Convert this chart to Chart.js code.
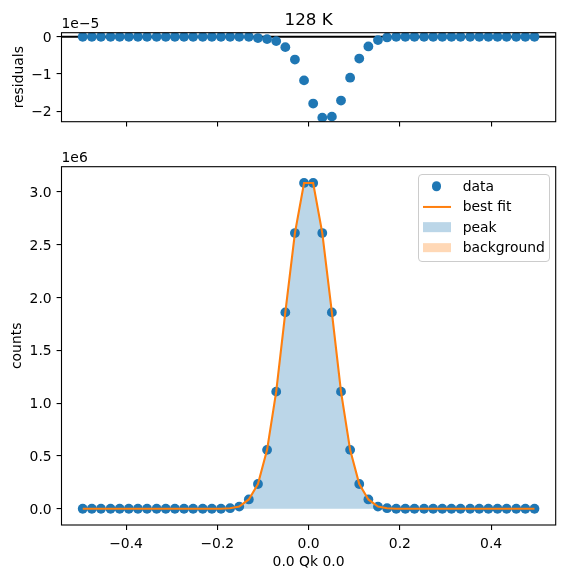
<!DOCTYPE html>
<html>
<head>
<meta charset="utf-8">
<script src="https://cdn.jsdelivr.net/npm/chart.js@4.4.0/dist/chart.umd.min.js"></script>
<style>
  html, body { margin: 0; padding: 0; background: #fff; }
  #fig { position: relative; width: 567px; height: 578px; overflow: hidden; font-family: 'DejaVu Sans', sans-serif; }
  #fig canvas { position: absolute; left: 0; }
  #resCanvas { top: 0; }
  #mainCanvas { top: 140px; }
  #legend {
    position: absolute; left: 418px; top: 174px; width: 132px; height: 88px;
    box-sizing: border-box; border: 1px solid #cccccc; border-radius: 4px;
    background: rgba(255, 255, 255, 0.8); z-index: 2;
    font-size: 13.9px; color: #000;
  }
  #legend .row { position: absolute; left: 0; width: 100%; height: 20.5px; }
  #legend .handle { position: absolute; top: 50%; transform: translateY(-50%); }
  #legend .text { position: absolute; left: 43.7px; top: 0; line-height: 20.5px; white-space: nowrap; }
</style>
</head>
<body>
<div id="fig">
  <canvas id="resCanvas" width="567" height="140"></canvas>
  <canvas id="mainCanvas" width="567" height="438"></canvas>
  <div id="legend"></div>
</div>
<script>
// scan positions (0.0 Qk 0.0)
const qk = [
  -0.495, -0.475, -0.455, -0.434, -0.414, -0.394, -0.374, -0.354, -0.333, -0.313,
  -0.293, -0.273, -0.253, -0.232, -0.212, -0.192, -0.172, -0.152, -0.131, -0.111,
  -0.091, -0.071, -0.051, -0.030, -0.010, 0.010, 0.030, 0.051, 0.071, 0.091,
  0.111, 0.131, 0.152, 0.172, 0.192, 0.212, 0.232, 0.253, 0.273, 0.293,
  0.313, 0.333, 0.354, 0.374, 0.394, 0.414, 0.434, 0.455, 0.475, 0.495
];

const counts = [
  0, 0, 0, 0, 0, 0, 0, 0, 0, 0,
  0, 0, 0, 0, 0, 0, 5000, 20000, 88000, 234000,
  557000, 1108000, 1858000, 2609000, 3083000, 3083000, 2609000, 1858000, 1108000, 557000,
  234000, 88000, 20000, 5000, 0, 0, 0, 0, 0, 0,
  0, 0, 0, 0, 0, 0, 0, 0, 0, 0
];

const bestFit = [
  0, 0, 0, 0, 0, 0, 0, 0, 0, 0,
  0, 0, 0, 0, 0, 0, 5000, 20000, 88000, 234000,
  557000, 1108000, 1858000, 2609000, 3083000, 3083000, 2609000, 1858000, 1108000, 557000,
  234000, 88000, 20000, 5000, 0, 0, 0, 0, 0, 0,
  0, 0, 0, 0, 0, 0, 0, 0, 0, 0
];

const peak = [
  0, 0, 0, 0, 0, 0, 0, 0, 0, 0,
  0, 0, 0, 0, 0, 0, 5000, 20000, 88000, 234000,
  557000, 1108000, 1858000, 2609000, 3083000, 3083000, 2609000, 1858000, 1108000, 557000,
  234000, 88000, 20000, 5000, 0, 0, 0, 0, 0, 0,
  0, 0, 0, 0, 0, 0, 0, 0, 0, 0
];

const background = [
  0, 0, 0, 0, 0, 0, 0, 0, 0, 0,
  0, 0, 0, 0, 0, 0, 0, 0, 0, 0,
  0, 0, 0, 0, 0, 0, 0, 0, 0, 0,
  0, 0, 0, 0, 0, 0, 0, 0, 0, 0,
  0, 0, 0, 0, 0, 0, 0, 0, 0, 0
];

const residuals = [
  0, 0, 0, 0, 0, 0, 0, 0, 0, 0,
  0, 0, 0, 0, 0, 0, 0, 0, 0, -0.036e-5,
  -0.063e-5, -0.117e-5, -0.279e-5, -0.613e-5, -1.171e-5, -1.793e-5, -2.171e-5, -2.144e-5, -1.712e-5, -1.099e-5,
  -0.586e-5, -0.261e-5, -0.090e-5, -0.018e-5, 0, 0, 0, 0, 0, 0,
  0, 0, 0, 0, 0, 0, 0, 0, 0, 0
];

const xTicks = [-0.4, -0.2, 0, 0.2, 0.4];
const countTicks = [0, 500000, 1000000, 1500000, 2000000, 2500000, 3000000];
const residualTicks = [0, -1e-5, -2e-5];

const xLimits = [-0.5415, 0.5415];
const countLimits = [-154000, 3237000];
const residualLimits = [-2.28e-5, 0.1086e-5];
const residualZero = 0;

const BLUE = '#1f77b4';
const ORANGE = '#ff7f0e';
const axisFont = { family: 'DejaVu Sans', size: 13.9 };

Chart.defaults.font.family = 'DejaVu Sans';
Chart.defaults.color = '#000';

function fmt(v, digits) {
  const s = Math.abs(v).toFixed(digits);
  return (v < 0 && Number(s) !== 0 ? '\u2212' : '') + s;
}

function points(xs, ys) {
  return xs.map((x, i) => ({ x: x, y: ys[i] }));
}

function tickGrid() {
  return { drawOnChartArea: false, drawTicks: true, tickLength: 4.9, color: '#000', lineWidth: 1.1 };
}

// box round the plot area, title and the 1eN offset text
const axesFrame = {
  id: 'axesFrame',
  afterDraw(chart, args, opts) {
    const { ctx, chartArea: a } = chart;
    ctx.save();
    ctx.strokeStyle = '#000';
    ctx.lineWidth = 1.1;
    ctx.strokeRect(a.left, a.top, a.right - a.left, a.bottom - a.top);
    ctx.fillStyle = '#000';
    ctx.textBaseline = 'alphabetic';
    if (opts.offsetText) {
      ctx.font = '13.9px "DejaVu Sans"';
      ctx.textAlign = 'left';
      ctx.fillText(opts.offsetText, a.left, a.top - 4.4);
    }
    if (opts.title) {
      ctx.font = '16.7px "DejaVu Sans"';
      ctx.textAlign = 'center';
      ctx.fillText(opts.title, (a.left + a.right) / 2, opts.titleY);
    }
    ctx.restore();
  }
};

// legend built from the chart's datasets, placed as html over the plot
const htmlLegend = {
  id: 'htmlLegend',
  afterUpdate(chart) {
    const box = document.getElementById('legend');
    box.innerHTML = '';
    chart.data.datasets.forEach((ds, i) => {
      const row = document.createElement('div');
      row.className = 'row';
      row.style.top = (11 + i * 20.5 - 10.25) + 'px';

      const handle = document.createElement('span');
      handle.className = 'handle';
      if (ds.handle === 'marker') {
        Object.assign(handle.style, { left: (3.7 + 14 - 4.8) + 'px', width: '9.6px', height: '9.6px', borderRadius: '50%', background: ds.pointBackgroundColor });
      } else if (ds.handle === 'line') {
        Object.assign(handle.style, { left: '3.7px', width: '28px', height: '2.1px', background: ds.borderColor });
      } else {
        Object.assign(handle.style, { left: '3.7px', width: '28px', height: '9.7px', background: ds.backgroundColor });
      }

      const text = document.createElement('span');
      text.className = 'text';
      text.textContent = ds.label;

      row.appendChild(handle);
      row.appendChild(text);
      box.appendChild(row);
    });
  }
};

// residuals panel
new Chart(document.getElementById('resCanvas'), {
  type: 'line',
  data: {
    datasets: [
      {
        label: 'residuals',
        data: points(qk, residuals),
        showLine: false,
        pointRadius: 4.9,
        pointBorderWidth: 0,
        pointBackgroundColor: BLUE,
        order: 0
      },
      {
        label: 'zero',
        data: [{ x: xLimits[0], y: residualZero }, { x: xLimits[1], y: residualZero }],
        borderColor: '#000',
        borderWidth: 2,
        pointRadius: 0,
        fill: false,
        order: 1
      }
    ]
  },
  options: {
    responsive: false,
    animation: false,
    events: [],
    layout: { padding: { left: 0, top: 32.7, right: 11.3, bottom: 0 } },
    plugins: {
      legend: { display: false },
      tooltip: { enabled: false },
      axesFrame: { title: '128 K', titleY: 25, offsetText: '1e\u22125' }
    },
    scales: {
      x: {
        type: 'linear',
        min: xLimits[0],
        max: xLimits[1],
        afterBuildTicks: s => { s.ticks = xTicks.map(v => ({ value: v })); },
        afterFit: s => { s.height = 18.3; },
        grid: tickGrid(),
        border: { display: false },
        ticks: { display: false }
      },
      y: {
        type: 'linear',
        min: residualLimits[0],
        max: residualLimits[1],
        afterBuildTicks: s => { s.ticks = residualTicks.map(v => ({ value: v })); },
        afterFit: s => { s.width = 61.5; },
        grid: tickGrid(),
        border: { display: false },
        ticks: { padding: 4.9, labelOffset: 1.5, font: axisFont, color: '#000', callback: v => fmt(v / 1e-5, 0) },
        title: { display: true, text: 'residuals', font: axisFont, color: '#000', padding: { top: 11.2, bottom: 0 } }
      }
    }
  },
  plugins: [axesFrame]
});

// counts panel
new Chart(document.getElementById('mainCanvas'), {
  type: 'line',
  data: {
    datasets: [
      {
        label: 'data',
        data: points(qk, counts),
        showLine: false,
        pointRadius: 4.9,
        pointBorderWidth: 0,
        pointBackgroundColor: BLUE,
        handle: 'marker',
        order: 1
      },
      {
        label: 'best fit',
        data: points(qk, bestFit),
        borderColor: ORANGE,
        borderWidth: 2.1,
        pointRadius: 0,
        tension: 0,
        fill: false,
        handle: 'line',
        order: 0
      },
      {
        label: 'peak',
        data: points(qk, peak),
        borderColor: 'rgba(0,0,0,0)',
        borderWidth: 0,
        pointRadius: 0,
        fill: 'origin',
        backgroundColor: 'rgba(31,119,180,0.3)',
        handle: 'patch',
        order: 2
      },
      {
        label: 'background',
        data: points(qk, background),
        borderColor: 'rgba(0,0,0,0)',
        borderWidth: 0,
        pointRadius: 0,
        fill: 'origin',
        backgroundColor: 'rgba(255,127,14,0.3)',
        handle: 'patch',
        order: 3
      }
    ]
  },
  options: {
    responsive: false,
    animation: false,
    events: [],
    layout: { padding: { left: 0, top: 26.7, right: 11.3, bottom: 0 } },
    plugins: {
      legend: { display: false },
      tooltip: { enabled: false },
      axesFrame: { offsetText: '1e6' }
    },
    scales: {
      x: {
        type: 'linear',
        min: xLimits[0],
        max: xLimits[1],
        afterBuildTicks: s => { s.ticks = xTicks.map(v => ({ value: v })); },
        afterFit: s => { s.height = 53; },
        grid: tickGrid(),
        border: { display: false },
        ticks: { padding: 6.6, font: axisFont, color: '#000', maxRotation: 0, autoSkip: false, callback: v => fmt(v, 1) },
        title: { display: true, text: '0.0 Qk 0.0', font: axisFont, color: '#000', padding: { top: 0, bottom: 7.2 } }
      },
      y: {
        type: 'linear',
        min: countLimits[0],
        max: countLimits[1],
        afterBuildTicks: s => { s.ticks = countTicks.map(v => ({ value: v })); },
        afterFit: s => { s.width = 61.5; },
        grid: tickGrid(),
        border: { display: false },
        ticks: { padding: 4.9, labelOffset: 1.5, font: axisFont, color: '#000', autoSkip: false, callback: v => fmt(v / 1e6, 1) },
        title: { display: true, text: 'counts', font: axisFont, color: '#000', padding: { top: 9.2, bottom: 0 } }
      }
    }
  },
  plugins: [axesFrame, htmlLegend]
});
</script>
</body>
</html>
